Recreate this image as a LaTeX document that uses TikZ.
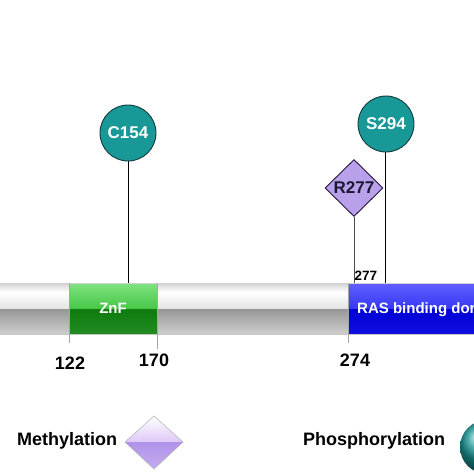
\documentclass[tikz,border=0pt]{standalone}
\usepackage{fontspec}
\setmainfont{Liberation Sans}
\usetikzlibrary{shapes.geometric}
\definecolor{tealc}{RGB}{24,152,150}
\definecolor{tealdark}{RGB}{18,60,60}
\definecolor{lav}{RGB}{184,160,234}
\definecolor{lavdark}{RGB}{40,20,60}
\definecolor{rtext}{RGB}{28,24,50}
\definecolor{gb1}{RGB}{206,206,206}
\definecolor{gb2}{RGB}{150,150,150}
\definecolor{gb3}{RGB}{228,228,228}
\definecolor{gb4}{RGB}{210,210,210}
\definecolor{gr1}{RGB}{34,140,34}
\definecolor{gr2}{RGB}{14,122,14}
\definecolor{gr3}{RGB}{72,200,72}
\definecolor{gr4}{RGB}{128,226,128}
\definecolor{bl1}{RGB}{16,16,224}
\definecolor{bl2}{RGB}{0,0,214}
\definecolor{bl3}{RGB}{56,56,246}
\definecolor{bl4}{RGB}{96,96,255}
\definecolor{lavtop}{RGB}{222,200,246}
\definecolor{lavbot}{RGB}{176,146,234}
\definecolor{lavbot2}{RGB}{196,172,240}
\pgfdeclareverticalshading{graybar}{100bp}{color(0bp)=(gb1); color(25bp)=(gb1); color(49.6bp)=(gb2); color(50.4bp)=(gb3); color(66bp)=(white); color(75bp)=(gb4); color(100bp)=(gb4)}
\pgfdeclareverticalshading{greenbar}{100bp}{color(0bp)=(gr1); color(25bp)=(gr1); color(49.6bp)=(gr2); color(50.4bp)=(gr3); color(75bp)=(gr4); color(100bp)=(gr4)}
\pgfdeclareverticalshading{bluebar}{100bp}{color(0bp)=(bl1); color(25bp)=(bl1); color(49.6bp)=(bl2); color(50.4bp)=(bl3); color(75bp)=(bl4); color(100bp)=(bl4)}
\tikzset{
  site/.style={circle, draw=tealdark, line width=0.9pt, fill=tealc, minimum size=56pt, inner sep=0pt, text=white, font=\bfseries\fontsize{17}{19}\selectfont},
  methsite/.style={diamond, draw=lavdark, line width=0.9pt, fill=lav, minimum width=58pt, minimum height=57pt, inner sep=0pt, text=rtext, font=\bfseries\fontsize{17}{19}\selectfont},
  stem/.style={line width=0.8pt, draw=black},
  tick/.style={line width=0.6pt, draw=gray!70},
  numlab/.style={font=\bfseries\fontsize{18}{20}\selectfont, text=black, inner sep=0pt},
  domlab/.style={font=\bfseries\fontsize{15}{17}\selectfont, text=white, inner sep=0pt},
  leglab/.style={font=\bfseries\fontsize{18}{20}\selectfont, text=black, inner sep=0pt, anchor=base west},
}
\begin{document}
\begin{tikzpicture}[x=1pt, y=-1pt]
\useasboundingbox (0,0) rectangle (474,474);
\clip (0,0) rectangle (474,474);
\fill[white] (0,0) rectangle (474,474);
% bar
\shade[shading=graybar] (0,283) rectangle (474,334);
\shade[shading=greenbar] (69,283) rectangle (157,334);
\shade[shading=bluebar] (348,283) rectangle (474,334);
\draw[gray!35, line width=0.5pt] (0,283) -- (474,283);
\draw[gray!45, line width=0.5pt] (0,334) -- (474,334);
\node[domlab, anchor=base] (znf) at (113,313) {ZnF};
\node[domlab, anchor=base west] (ras) at (357,313) {RAS binding domain};
% ticks
\coordinate (t122a) at (69,283); \coordinate (t122b) at (69,343);
\coordinate (t170a) at (157,283); \coordinate (t170b) at (157,349);
\coordinate (t274a) at (348,283); \coordinate (t274b) at (348,343);
\draw[tick] (t122a) -- (t122b);
\draw[tick] (t170a) -- (t170b);
\draw[tick] (t274a) -- (t274b);
\node[numlab, anchor=base] (l122) at (70,369) {122};
\node[numlab, anchor=base] (l170) at (154,366) {170};
\node[numlab, anchor=base] (l274) at (355,366) {274};
% sites
\coordinate (b154) at (128,283);
\coordinate (b277) at (354,283);
\coordinate (b294) at (385,283);
\node[site] (c154) at (128,133) {C154};
\node[site] (s294) at (386,124) {S294};
\node[methsite] (r277) at (354,188) {R277};
\draw[stem] (c154.south) -- (b154);
\draw[stem] (s294.south -| b294) -- (b294);
\draw[stem, draw=black!70] (r277) -- (b277);
\node[font=\bfseries\fontsize{13.5}{15}\selectfont, inner sep=0pt, anchor=base west] (p277) at (354.5,280) {277};
% legend
\node[leglab] (meth) at (17,445) {Methylation};
\coordinate (dl) at (125,442); \coordinate (dt) at (154,416);
\coordinate (dr) at (183,442); \coordinate (db) at (154,469);
\shade[top color=white, bottom color=lavtop] (dl) -- (dt) -- (dr) -- cycle;
\shade[top color=lavbot, bottom color=lavbot2] (dl) -- (dr) -- (db) -- cycle;
\draw[gray!60, line width=0.5pt] (dl) -- (dt) -- (dr) -- (db) -- cycle;
\node[leglab] (phos) at (303,445) {Phosphorylation};
\shade[ball color=tealc] (487,447) circle (27);
\end{tikzpicture}
\end{document}
